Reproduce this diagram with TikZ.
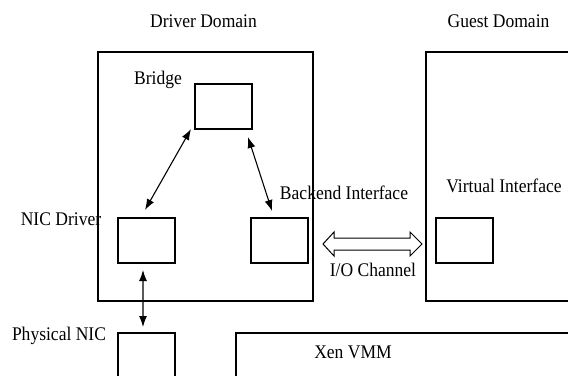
\documentclass[tikz,border=0pt]{standalone}
\usepackage{fontspec}
\setmainfont{Liberation Serif}
\usetikzlibrary{arrows.meta,calc}
\newcommand\tallt[1]{\scalebox{1}[1.1]{#1}}
\begin{document}
\begin{tikzpicture}[x=1bp,y=-1bp,
  box/.style={draw,line width=1.2bp,inner sep=0pt,outer sep=0pt},
  lbl/.style={anchor=base,inner sep=0pt,font=\fontsize{17.6}{20}\selectfont},
  dbl/.style={line width=1.1bp,{Latex[length=11bp,width=8bp]}-{Latex[length=11bp,width=8bp]}}]
\clip (0,0) rectangle (568,375);
% domains
\node[box,minimum width=215bp,minimum height=249bp] (driver) at (205.5,176.5) {};
\node[box,minimum width=180bp,minimum height=249bp,anchor=north west] (guest) at (426,52) {};
\node[box,minimum width=360bp,minimum height=80bp,anchor=north west] (xen) at (236,333) {};
% small boxes
\node[box,minimum width=57bp,minimum height=45bp] (bridge) at (223.5,106.5) {};
\node[box,minimum width=57bp,minimum height=45bp] (nic) at (146.5,240.5) {};
\node[box,minimum width=57bp,minimum height=45bp] (backend) at (279.5,240.5) {};
\node[box,minimum width=57bp,minimum height=45bp] (virt) at (464.5,240.5) {};
\node[box,minimum width=57bp,minimum height=60bp,anchor=north west] (phys) at (118,333) {};
% labels
\node[lbl] (tdriver) at (203.5,27) {\tallt{Driver Domain}};
\node[lbl] (tguest) at (498.5,27) {\tallt{Guest Domain}};
\node[lbl] (tbridge) at (158,84) {\tallt{Bridge}};
\node[lbl] (tbackend) at (344,199) {\tallt{Backend Interface}};
\node[lbl] (tvirt) at (504,192) {\tallt{Virtual Interface}};
\node[lbl] (tnic) at (61,225) {\tallt{NIC Driver}};
\node[lbl] (tphys) at (59,340) {\tallt{Physical NIC}};
\node[lbl] (tio) at (373,276) {\tallt{I/O Channel}};
\node[lbl] (txen) at (353,358) {\tallt{Xen VMM}};
% arrows
\draw[dbl] ($(bridge.south west)+(-4,0)$) -- ($(nic.north)+(-1.5,-8)$);
\draw[dbl] ($(bridge.south east)+(-4,8)$) -- ($(backend.north west)+(21,-7)$);
\draw[dbl] ($(nic.south)+(-3.5,7)$) -- ($(phys.north)+(-3.5,-6)$);
% I/O channel hollow double arrow
\draw[line width=1bp,fill=white,line join=miter]
  (323,244) -- (334,232) -- (334,238) -- (410,238) -- (410,232) -- (422,244)
  -- (410,256) -- (410,250) -- (334,250) -- (334,256) -- cycle;
\end{tikzpicture}
\end{document}
